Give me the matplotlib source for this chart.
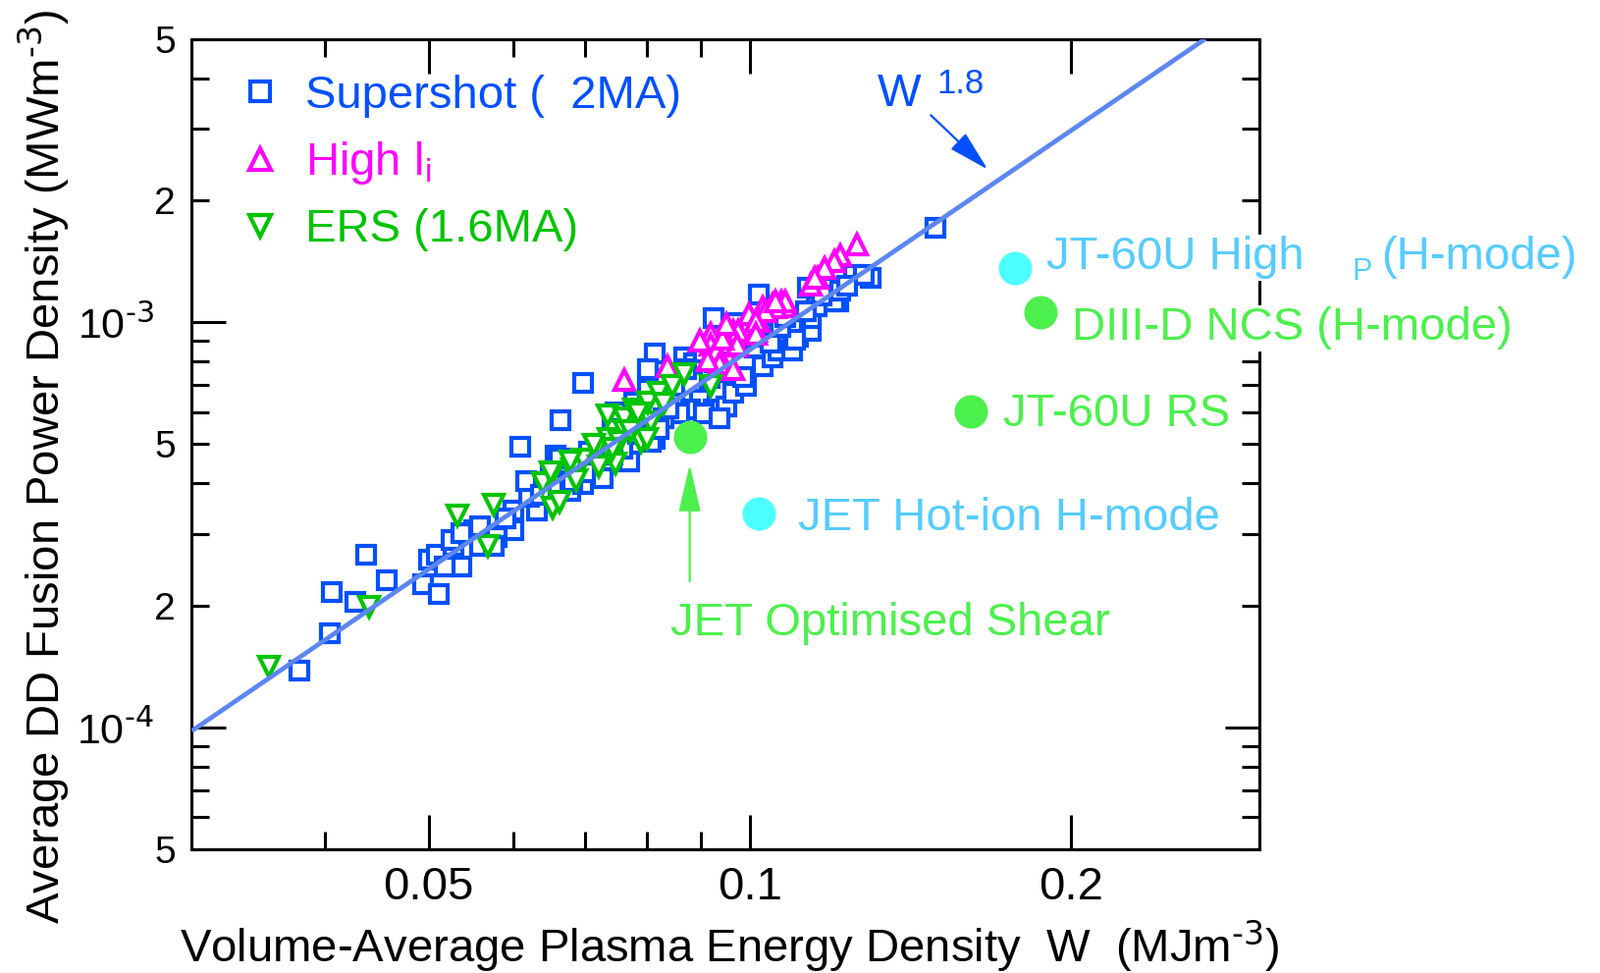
import matplotlib
matplotlib.use("Agg")
import matplotlib.pyplot as plt
from matplotlib.lines import Line2D
from matplotlib.patches import FancyArrowPatch
from matplotlib.ticker import FixedLocator, FixedFormatter, NullFormatter

# ---- data ----
# Supershot (2MA)
super_w = [0.0378, 0.0404, 0.0406, 0.0427, 0.0437, 0.0457, 0.0500, 0.0509, 0.0494, 0.0511,
           0.0528, 0.0536, 0.0518, 0.0552, 0.0559, 0.0525, 0.0600, 0.0631, 0.0621, 0.0617,
           0.0650, 0.0658, 0.0664, 0.0609, 0.0678, 0.0697, 0.0706, 0.0727, 0.0770, 0.0814,
           0.0600, 0.0559, 0.0579, 0.0536, 0.0575, 0.0697, 0.0814, 0.0803, 0.0748, 0.0779,
           0.0803, 0.0743, 0.0722, 0.0701, 0.0681, 0.0663, 0.0808, 0.0867, 0.0886, 0.0850,
           0.0898, 0.0879, 0.0924, 0.0951, 0.0964, 0.0991, 0.0985, 0.1027, 0.1050, 0.1064,
           0.0924, 0.0970, 0.1020, 0.1057, 0.1109, 0.1141, 0.1141, 0.1209, 0.1190, 0.1252,
           0.1297, 0.1102, 0.1094, 0.1493, 0.1277, 0.1200, 0.1215, 0.1134, 0.1094, 0.1102,
           0.0848, 0.0858, 0.0906, 0.0936, 0.0830, 0.0916, 0.0947, 0.0906, 0.0871, 0.0926,
           0.1011, 0.1045, 0.1068, 0.1000, 0.1154, 0.1167, 0.1233, 0.1129, 0.1080, 0.0760,
           0.0785, 0.0821, 0.0839, 0.0743, 0.0590, 0.0637]
super_p = [1.38e-4, 1.71e-4, 2.16e-4, 2.04e-4, 2.67e-4, 2.30e-4, 2.60e-4, 2.67e-4, 2.26e-4, 2.13e-4,
           2.80e-4, 2.50e-4, 2.50e-4, 3.07e-4, 2.80e-4, 2.90e-4, 3.43e-4, 3.43e-4, 3.70e-4, 4.06e-4,
           4.27e-4, 4.69e-4, 5.71e-4, 4.92e-4, 3.83e-4, 3.99e-4, 4.80e-4, 4.12e-4, 4.53e-4, 5.15e-4,
           3.07e-4, 3.13e-4, 2.95e-4, 3.01e-4, 2.80e-4, 7.08e-4, 8.37e-4, 7.64e-4, 5.99e-4, 6.34e-4,
           6.80e-4, 5.46e-4, 4.80e-4, 4.27e-4, 4.06e-4, 4.61e-4, 5.06e-4, 8.19e-4, 7.91e-4, 6.80e-4,
           6.45e-4, 6.09e-4, 6.09e-4, 6.20e-4, 6.68e-4, 6.96e-4, 7.33e-4, 7.77e-4, 8.19e-4, 8.52e-4,
           1.025e-3, 9.94e-4, 1.167e-3, 9.36e-4, 9.19e-4, 9.53e-4, 1.024e-3, 1.127e-3, 1.216e-3, 1.308e-3,
           1.285e-3, 1.024e-3, 8.52e-4, 1.71e-3, 1.308e-3, 1.127e-3, 1.195e-3, 1.216e-3, 9.70e-4, 9.03e-4,
           6.30e-4, 5.95e-4, 5.95e-4, 5.78e-4, 5.78e-4, 7.29e-4, 7.51e-4, 8.42e-4, 7.64e-4, 7.95e-4,
           8.67e-4, 8.92e-4, 9.75e-4, 9.19e-4, 1.094e-3, 1.16e-3, 1.23e-3, 1.063e-3, 1.03e-3, 4.86e-4,
           5.30e-4, 5.46e-4, 6.13e-4, 4.72e-4, 3.28e-4, 3.74e-4]

# High li
highli_w = [0.0763, 0.0837, 0.0918, 0.0918, 0.0930, 0.0964, 0.0970, 0.0991, 0.1013, 0.0998,
            0.1027, 0.1050, 0.1071, 0.1080, 0.1020, 0.0936, 0.0964, 0.0912, 0.0898, 0.1141,
            0.1157, 0.1260, 0.1215, 0.1200, 0.1174, 0.1150, 0.1080, 0.1057, 0.1034, 0.1013,
            0.0975, 0.0972, 0.1013, 0.1057, 0.0943, 0.0951]
highli_p = [7.21e-4, 7.77e-4, 9.36e-4, 8.82e-4, 8.52e-4, 9.53e-4, 8.77e-4, 9.70e-4, 9.53e-4, 1.044e-3,
            1.088e-3, 1.107e-3, 1.127e-3, 1.094e-3, 1.006e-3, 7.91e-4, 7.64e-4, 8.05e-4, 8.98e-4, 1.237e-3,
            1.285e-3, 1.55e-3, 1.46e-3, 1.41e-3, 1.356e-3, 1.285e-3, 1.127e-3, 1.088e-3, 1.063e-3, 1.006e-3,
            9.53e-4, 8.82e-4, 9.36e-4, 1.127e-3, 9.10e-4, 9.90e-4]

# ERS (1.6MA)
ers_w = [0.0354, 0.0440, 0.0532, 0.0575, 0.0568, 0.0653, 0.0640, 0.0653, 0.0681, 0.0697,
         0.0722, 0.0748, 0.0722, 0.0737, 0.0762, 0.0790, 0.0779, 0.0808, 0.0650, 0.0678,
         0.0714, 0.0736, 0.0762, 0.0779, 0.0801, 0.0803, 0.0821, 0.0845, 0.0867, 0.0918,
         0.0773, 0.0755, 0.0663, 0.0830, 0.0785, 0.0743, 0.0688]
ers_p = [1.41e-4, 1.98e-4, 3.33e-4, 3.55e-4, 2.81e-4, 3.49e-4, 4.01e-4, 4.25e-4, 4.32e-4, 4.58e-4,
         4.40e-4, 4.48e-4, 4.97e-4, 5.15e-4, 5.37e-4, 5.06e-4, 5.55e-4, 5.65e-4, 4.27e-4, 4.53e-4,
         4.97e-4, 5.88e-4, 5.78e-4, 6.09e-4, 5.15e-4, 6.34e-4, 6.68e-4, 6.96e-4, 7.46e-4, 6.96e-4,
         5.37e-4, 5.06e-4, 3.61e-4, 6.30e-4, 5.95e-4, 4.86e-4, 4.08e-4]

# other machines (filled circles)
ref_names = ['JET Optimised Shear', 'JET Hot-ion H-mode', 'JT-60U RS', 'DIII-D NCS (H-mode)', 'JT-60U High']
ref_w = [0.0878, 0.102, 0.161, 0.187, 0.177]
ref_p = [5.2e-4, 3.37e-4, 6.02e-4, 1.06e-3, 1.36e-3]

# W^1.8 scaling line end points
fit_w = [0.030, 0.267]
fit_p = [9.8e-5, 5.0e-3]

x_ticks = [0.05, 0.1, 0.2]
x_ticklabels = ['0.05', '0.1', '0.2']
x_minor = [0.04, 0.06, 0.07, 0.08, 0.09]
y_major = [1e-4, 1e-3]
y_majorlabels = [r'10$^{\text{-4}}$', r'10$^{\text{-3}}$']
y_minor = [5e-5, 6e-5, 7e-5, 8e-5, 9e-5,
           2e-4, 3e-4, 4e-4, 5e-4, 6e-4, 7e-4, 8e-4, 9e-4,
           2e-3, 3e-3, 4e-3, 5e-3]
y_minorlabels = ['5', '', '', '', '',
                 '2', '', '', '5', '', '', '', '',
                 '2', '', '', '5']

# ---- style ----
BLUE = '#0050ff'
MAGENTA = '#ff00ff'
GREEN = '#00c400'
LINE = '#5c86f2'
LGREEN = '#4cf04c'
CYAN = '#4dffff'
LBLUE = '#55ccff'

plt.rcParams['font.family'] = ['Liberation Sans', 'DejaVu Sans']
plt.rcParams['mathtext.default'] = 'regular'
FS = 34

fig = plt.figure(figsize=(16.3, 9.91), dpi=100)
ax = fig.add_axes([0.1199, 0.1271, 0.6672, 0.833])
ax.set_xscale('log')
ax.set_yscale('log')
ax.set_xlim(0.03, 0.3)
ax.set_ylim(5e-5, 5e-3)

MK = dict(ls='none', mfc='white', mew=3.0)
ax.plot(super_w, super_p, marker='s', ms=12.5, mec=BLUE, zorder=3, **MK)
ax.plot(highli_w, highli_p, marker='^', ms=14.5, mec=MAGENTA, zorder=3.1, **MK)
ax.plot(ers_w, ers_p, marker='v', ms=14.5, mec=GREEN, zorder=3.2, **MK)
ax.plot(fit_w, fit_p, color=LINE, lw=3.4, zorder=4, solid_capstyle='butt')

ref_colors = [LGREEN, CYAN, LGREEN, LGREEN, CYAN]
for w, p, c in zip(ref_w, ref_p, ref_colors):
    ax.plot([w], [p], ls='none', marker='o', ms=24.5, mfc=c, mec='none', zorder=3)

# ---- axes / ticks ----
for s in ax.spines.values():
    s.set_linewidth(2.2)
ax.xaxis.set_major_locator(FixedLocator(x_ticks))
ax.xaxis.set_major_formatter(FixedFormatter(x_ticklabels))
ax.xaxis.set_minor_locator(FixedLocator(x_minor))
ax.xaxis.set_minor_formatter(NullFormatter())
ax.yaxis.set_major_locator(FixedLocator(y_major))
ax.yaxis.set_major_formatter(FixedFormatter(y_majorlabels))
ax.yaxis.set_minor_locator(FixedLocator(y_minor))
ax.yaxis.set_minor_formatter(FixedFormatter(y_minorlabels))

ax.tick_params(which='both', direction='in', top=True, right=True, width=2.2)
ax.tick_params(which='major', length=25)
ax.tick_params(which='minor', length=13)
ax.tick_params(axis='x', which='major', labelsize=FS, pad=12)
ax.tick_params(axis='y', which='major', labelsize=31, pad=28)
ax.tick_params(axis='y', which='minor', labelsize=28, pad=12)

ax.set_xlabel(r'Volume-Average Plasma Energy Density  W  (MJm$^{\text{-3}}$)', fontsize=FS)
ax.xaxis.label.set_va('baseline')
ax.xaxis.set_label_coords(0.504, -0.1390)
ax.set_ylabel(r'Average DD Fusion Power Density (MWm$^{\text{-3}}$)', fontsize=FS)
ax.yaxis.label.set_va('baseline')
ax.yaxis.set_label_coords(-0.1245, 0.4724)

# ---- legend ----
handles = [
    Line2D([], [], marker='s', ms=15, mec=BLUE, **MK),
    Line2D([], [], marker='^', ms=16, mec=MAGENTA, **MK),
    Line2D([], [], marker='v', ms=16, mec=GREEN, **MK),
]
labels = ['Supershot (  2MA)', 'High l$_{i}$', 'ERS (1.6MA)']
ax.legend(handles, labels, loc='upper left', bbox_to_anchor=(0.0424, 0.9560),
          borderpad=0, borderaxespad=0, handlelength=1.0, handletextpad=0.48,
          labelspacing=0.47, frameon=False, fontsize=FS,
          labelcolor=[BLUE, MAGENTA, GREEN])

# ---- annotations ----
tkw = dict(transform=ax.transAxes, ha='left', va='baseline', clip_on=False)
ax.text(0.6424, 0.9169, 'W', fontsize=FS, color=BLUE, **tkw)
ax.text(0.698, 0.9326, '1.8', fontsize=25, color=BLUE, **tkw)
ax.add_patch(FancyArrowPatch((0.1477, 3.24e-3), (0.167, 2.38e-3),
                             arrowstyle='-|>,head_length=1.3,head_width=0.34',
                             mutation_scale=20, lw=1.6, color=BLUE,
                             shrinkA=0, shrinkB=0, zorder=5))

box = dict(facecolor='white', edgecolor='none', pad=1)
ax.text(0.8002, 0.7154, ref_names[4], fontsize=FS, color=LBLUE, bbox=box, zorder=6, **tkw)
ax.text(1.087, 0.7028, 'P', fontsize=22, color=LBLUE, zorder=6, **tkw)
ax.text(1.1146, 0.7154, '(H-mode)', fontsize=FS, color=LBLUE, zorder=6, **tkw)
ax.text(0.824, 0.6285, ref_names[3], fontsize=FS, color=LGREEN, bbox=box, zorder=6, **tkw)
ax.text(0.760, 0.5227, ref_names[2], fontsize=FS, color=LGREEN, zorder=6, **tkw)
ax.text(0.5679, 0.3942, ref_names[1], fontsize=FS, color=LBLUE, zorder=6, **tkw)
ax.text(0.4484, 0.2645, ref_names[0], fontsize=FS, color=LGREEN, zorder=6, **tkw)
ax.add_patch(FancyArrowPatch((0.0878, 2.29e-4), (0.0878, 4.45e-4),
                             arrowstyle='-|>,head_length=1.5,head_width=0.35',
                             mutation_scale=20, lw=1.6, color=LGREEN,
                             shrinkA=0, shrinkB=0, zorder=5))

fig.savefig('out.png', dpi=100)
